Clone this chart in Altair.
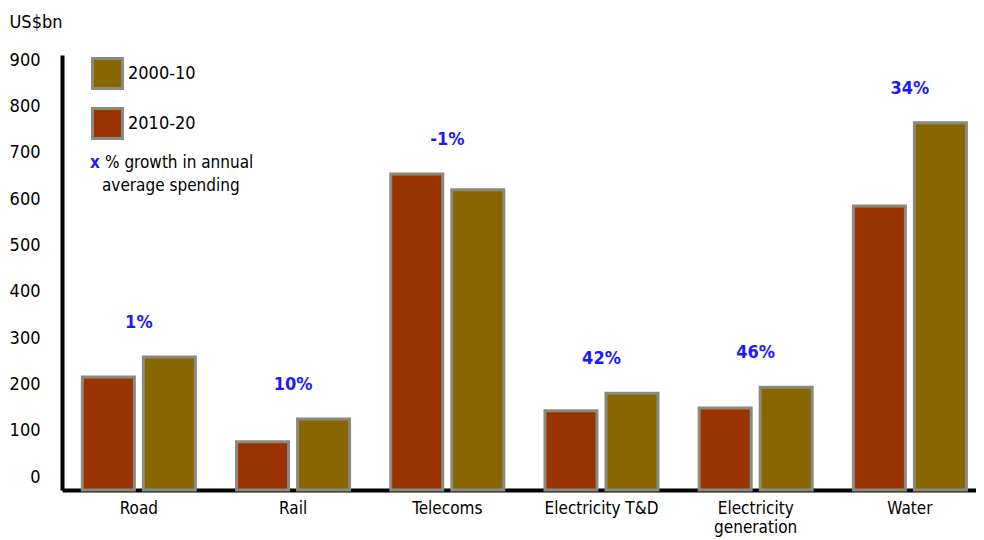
import altair as alt
import pandas as pd

categories = ["Road", "Rail", "Telecoms", "Electricity T&D", "Electricity generation", "Water"]
spend_2010_20 = [216, 76, 654, 143, 149, 585]
spend_2000_10 = [259, 125, 620, 181, 194, 765]
growth_labels = ["1%", "10%", "-1%", "42%", "46%", "34%"]
periods = ["2000-10", "2010-20"]
y_ticks = [0, 100, 200, 300, 400, 500, 600, 700, 800, 900]

FONT = "DejaVu Sans Condensed, Liberation Sans Narrow, Liberation Sans, sans-serif"

rows = []
for c, a, b in zip(categories, spend_2010_20, spend_2000_10):
    rows.append({"category": c, "period": "2010-20", "value": a, "order": 0})
    rows.append({"category": c, "period": "2000-10", "value": b, "order": 1})
df = pd.DataFrame(rows)

lab = pd.DataFrame({
    "category": categories,
    "label": growth_labels,
    "top": [max(a, b) for a, b in zip(spend_2010_20, spend_2000_10)],
})

YMIN, YMAX = -28, 911
yscale = alt.Scale(domain=[YMIN, YMAX], nice=False, zero=False)
xscale = alt.Scale(domain=categories, paddingInner=0.267, paddingOuter=0.097, align=0.68)

bars = alt.Chart(df).mark_bar(stroke="#8a8a80", strokeWidth=3).encode(
    x=alt.X("category:N", scale=xscale, sort=categories,
            axis=alt.Axis(title=None, labelAngle=0, domainColor="black", domainWidth=4, grid=False,
                          ticks=False, labelPadding=10, labelFontSize=17, labelFont=FONT,
                          labelColor="black", labelBaseline="top", labelLineHeight=19,
                          labelExpr="datum.value == 'Electricity generation' ? ['Electricity', 'generation'] : datum.value")),
    xOffset=alt.XOffset("order:O", scale=alt.Scale(paddingInner=0.1475, paddingOuter=0)),
    y=alt.Y("value:Q", scale=yscale,
            axis=alt.Axis(title="US$bn", titleAngle=0, titleX=-53, titleY=-33, titleAlign="left",
                          titleBaseline="middle", titleFont=FONT, titleFontSize=18, titleFontWeight="normal",
                          titleColor="black",
                          values=y_ticks, grid=False, ticks=False, domainColor="black", domainWidth=4,
                          labelPadding=22, labelFontSize=18, labelFont=FONT, labelColor="black")),
    y2=alt.datum(YMIN),
    color=alt.Color("period:N", scale=alt.Scale(domain=periods, range=["#886600", "#993300"]),
                    legend=alt.Legend(title=None, orient="none", legendX=29, legendY=2, symbolType="square",
                                      symbolSize=900, symbolStrokeColor="#8a8a80", symbolStrokeWidth=3,
                                      symbolOpacity=1, labelFont=FONT, labelFontSize=18, labelColor="black",
                                      labelOffset=4, rowPadding=7, padding=0)),
)

pct = alt.Chart(lab).mark_text(font=FONT, fontSize=18, fontWeight="bold", color="#1a1aff", dy=-34,
                               baseline="middle").encode(
    x=alt.X("category:N", scale=xscale, sort=categories),
    y=alt.Y("top:Q", scale=yscale),
    text="label:N",
)

note_x = alt.Chart(pd.DataFrame({"t": ["x"]})).mark_text(
    font=FONT, fontSize=17, fontWeight="bold", color="#1a1aff", align="left", baseline="middle"
).encode(x=alt.value(28), y=alt.value(108), text="t:N")
note1 = alt.Chart(pd.DataFrame({"t": ["% growth in annual"]})).mark_text(
    font=FONT, fontSize=17, color="black", align="left", baseline="middle"
).encode(x=alt.value(43), y=alt.value(108), text="t:N")
note2 = alt.Chart(pd.DataFrame({"t": ["average spending"]})).mark_text(
    font=FONT, fontSize=17, color="black", align="left", baseline="middle"
).encode(x=alt.value(40), y=alt.value(131), text="t:N")

chart = alt.layer(bars, pct, note_x, note1, note2).properties(
    width=914, height=435,
    background="white",
    autosize=alt.AutoSizeParams(type="none"),
    padding={"left": 54, "top": 47, "right": 0, "bottom": 50},
).configure_view(stroke=None)

chart.save("out.html", embed_options={"renderer": "svg", "actions": False})
